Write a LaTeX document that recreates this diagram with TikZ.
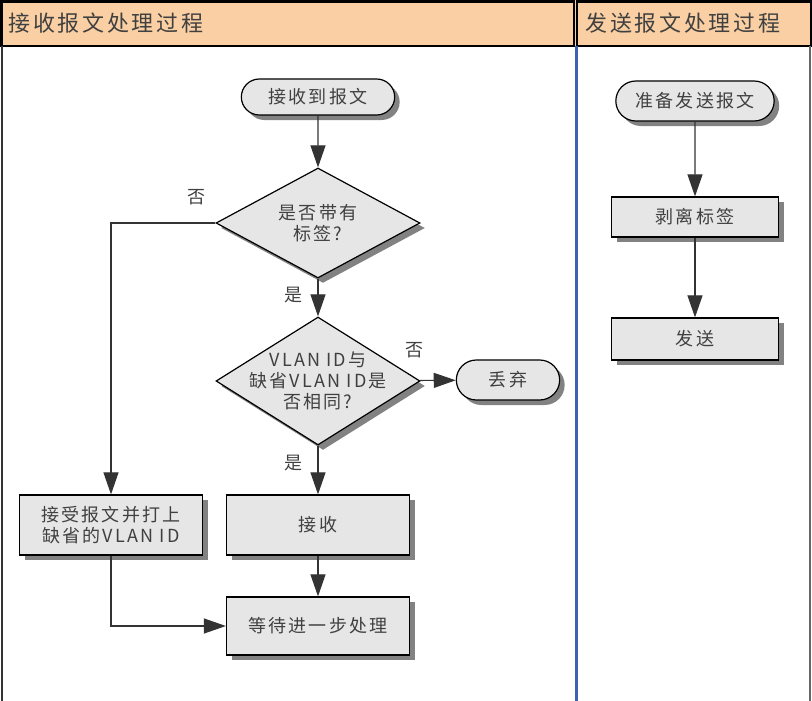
\documentclass[tikz,border=0pt]{standalone}
\usepackage{fontspec}
\setmainfont{Noto Sans CJK SC}[LetterSpace=12]
\usetikzlibrary{shapes.misc,shapes.geometric,shadows,arrows.meta}
\definecolor{laneorange}{HTML}{F9CFA3}
\definecolor{boxgray}{HTML}{E6E6E6}
\definecolor{shadowgray}{HTML}{828282}
\definecolor{txtgray}{HTML}{404040}
\definecolor{lineblue}{HTML}{3C62B4}
\begin{document}
\begin{tikzpicture}[x=1pt, y=-1pt,
  every node/.style={font=\fontsize{18}{21}\selectfont, text=txtgray, align=center},
  flowbox/.style={draw=black, line width=1.2pt, fill=boxgray,
    drop shadow={shadow xshift=5pt, shadow yshift=-5pt, fill=shadowgray, opacity=1}},
  arr/.style={-{Triangle[length=22pt, width=15pt]}, line width=1.1pt, draw=black!80}]
\useasboundingbox (0,0) rectangle (812,701);
% lane headers
\fill[laneorange] (0,0) rectangle (812,46);
\draw[line width=2.2pt] (1.5,1.5) rectangle (574,46);
\draw[line width=2.2pt] (577,1.5) rectangle (811,46);
\node[anchor=west, font=\fontsize{22}{24}\selectfont] (recvhead) at (5,23) {接收报文处理过程};
\node[anchor=west, font=\fontsize{22}{24}\selectfont] (sendhead) at (582,23) {发送报文处理过程};
\draw[line width=2pt, black!80] (2,46) -- (2,701);
\draw[line width=1.5pt, black!60] (810,46) -- (810,701);
\draw[line width=3pt, lineblue] (576,46) -- (576,701);
% receive lane
\node[flowbox, shape=rounded rectangle, minimum width=160pt, minimum height=36pt] (recv) at (318,97) {接收到报文};
\node[flowbox, shape=diamond, aspect=1.85, inner sep=-4pt, minimum width=204pt, minimum height=110pt] (tag) at (318,223) {是否带有\\标签?};
\node[flowbox, shape=diamond, aspect=1.6, inner sep=-10pt, minimum width=204pt, minimum height=128pt] (same) at (318,381) {VLAN ID与\\缺省VLAN ID是\\否相同?};
\node[flowbox, shape=rounded rectangle, minimum width=110pt, minimum height=40pt] (drop) at (508,380) {丢弃};
\node[flowbox, minimum width=183pt, minimum height=60pt] (accept) at (318,525) {接收};
\node[flowbox, minimum width=183pt, minimum height=60pt] (untag) at (111,525) {接受报文并打上\\缺省的VLAN ID};
\node[flowbox, minimum width=183pt, minimum height=58pt] (wait) at (318,626) {等待进一步处理};
\node (no1) at (196,197) {否};
\node (yes1) at (293,295) {是};
\node (no2) at (414,350) {否};
\node (yes2) at (293,463) {是};
\draw[arr] (recv) -- (tag);
\draw[arr] (tag) -- (same);
\draw[arr] (tag.west) -| (untag.north);
\draw[arr] (same) -- (drop);
\draw[arr] (same) -- (accept);
\draw[arr] (accept) -- (wait);
\draw[arr] (untag.south) |- (wait.west);
% send lane
\node[flowbox, shape=rounded rectangle, minimum width=165pt, minimum height=40pt] (prep) at (695,101) {准备发送报文};
\node[flowbox, minimum width=167pt, minimum height=40pt] (strip) at (695,217) {剥离标签};
\node[flowbox, minimum width=167pt, minimum height=42pt] (send) at (695,339) {发送};
\draw[arr] (prep) -- (strip);
\draw[arr] (strip) -- (send);
\end{tikzpicture}
\end{document}
